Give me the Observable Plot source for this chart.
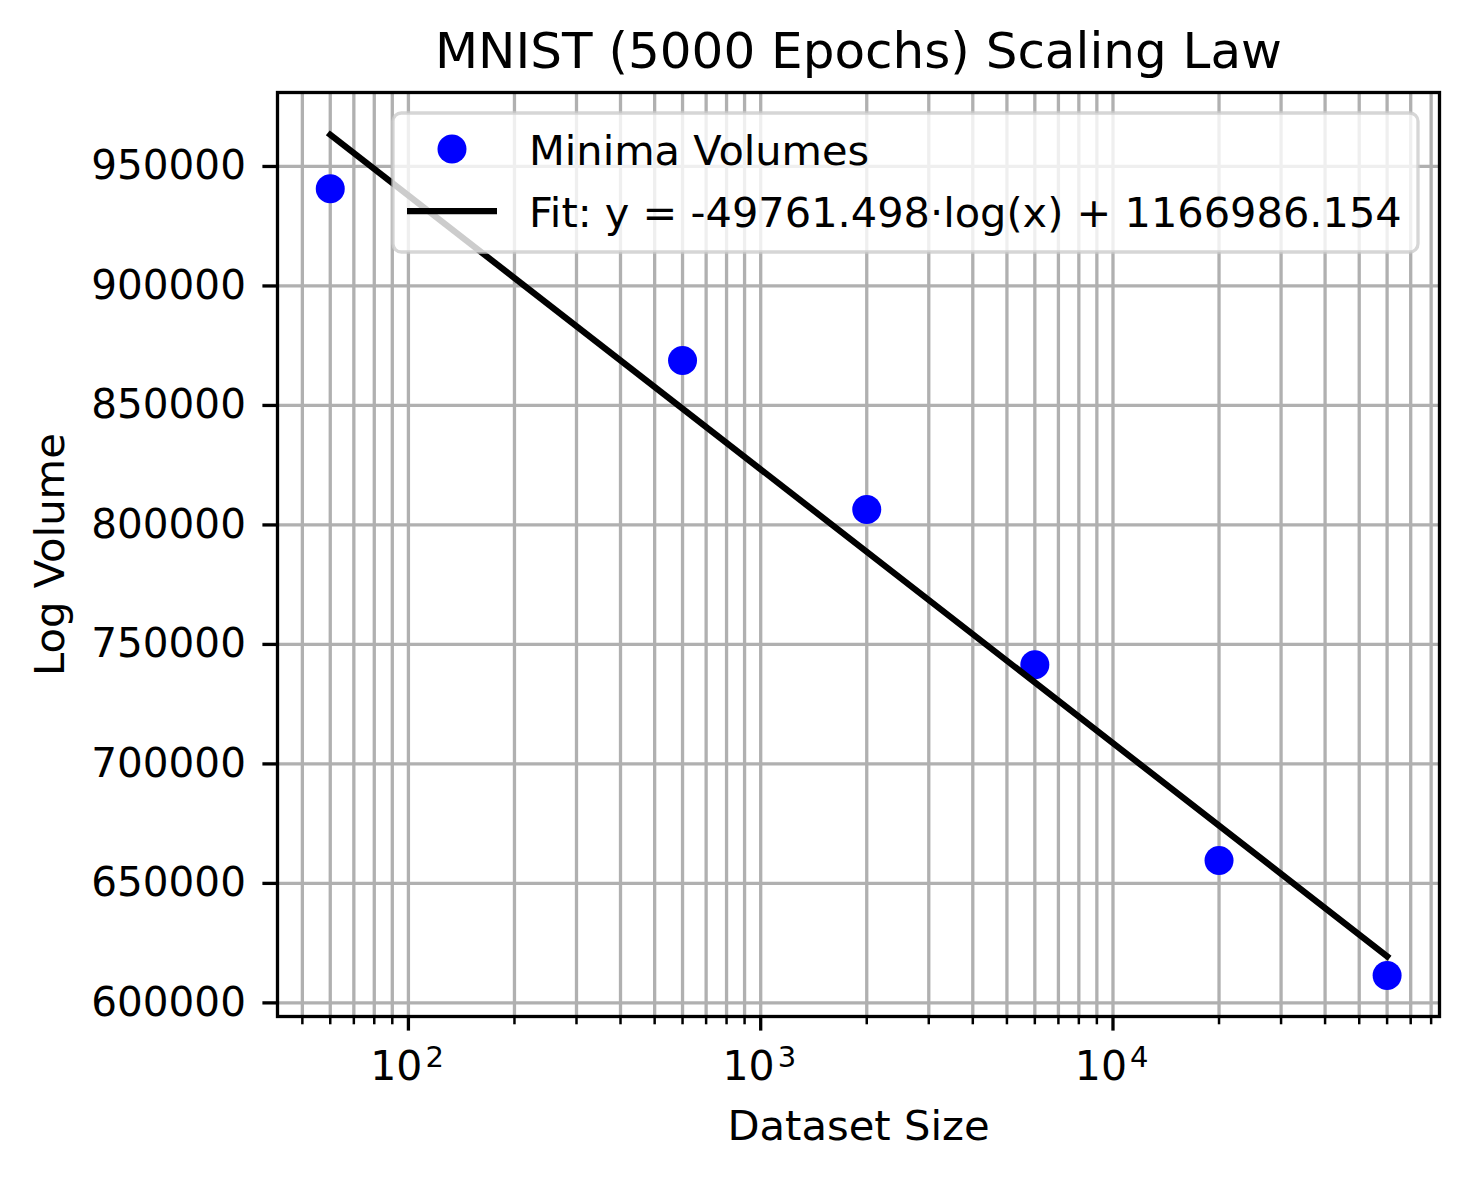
<!DOCTYPE html>
<html><head><meta charset="utf-8">
<script src="https://cdn.jsdelivr.net/npm/d3@7"></script>
<script src="https://cdn.jsdelivr.net/npm/@observablehq/plot@0.6"></script>
<style>
body{margin:0;background:#fff;}
#wrap{position:relative;width:1469px;height:1177px;font-family:"DejaVu Sans";}
#wrap svg{position:absolute;left:0;top:0;}
</style></head><body><div id="wrap"></div>
<script>
const datasetSizes = [60, 600, 2000, 6000, 20000, 60000];
const logVolumes = [940700, 868800, 806500, 741500, 659600, 611500];
const fitX = [60, 60000];
const fitY = [963250, 619510];
const xMajorTicks = [100, 1000, 10000];
const xTickBase = "10";
const xTickExponents = ["2", "3", "4"];
const xMinorTicks = [50, 60, 70, 80, 90, 200, 300, 400, 500, 600, 700, 800, 900,
  2000, 3000, 4000, 5000, 6000, 7000, 8000, 9000, 20000, 30000, 40000, 50000, 60000, 70000, 80000];
const yTicks = [600000, 650000, 700000, 750000, 800000, 850000, 900000, 950000];
const seriesLabels = ["Minima Volumes", "Fit: y = -49761.498·log(x) + 1166986.154"];
const titleText = "MNIST (5000 Epochs) Scaling Law";
const xLabel = "Dataset Size";
const yLabel = "Log Volume";

const points = datasetSizes.map((x, i) => ({x, y: logVolumes[i]}));
const fit = fitX.map((x, i) => ({x, y: fitY[i]}));
const majors = xMajorTicks.map((t, i) => ({t, e: xTickExponents[i]}));

const chart = Plot.plot({
  width: 1469, height: 1177,
  marginLeft: 277, marginRight: 30, marginTop: 92, marginBottom: 161,
  style: {fontFamily: "DejaVu Sans", fontSize: "41.7px", background: "white", color: "black"},
  x: {type: "log", domain: [42.5, 84500], label: null},
  y: {domain: [594300, 980950], label: null},
  marks: [
    Plot.gridX(xMajorTicks.concat(xMinorTicks), {stroke: "#b0b0b0", strokeOpacity: 1, strokeWidth: 3.3}),
    Plot.gridY(yTicks, {stroke: "#b0b0b0", strokeOpacity: 1, strokeWidth: 3.3}),
    Plot.dot(points, {x: "x", y: "y", r: 14.5, fill: "blue", stroke: null}),
    Plot.line(fit, {x: "x", y: "y", stroke: "black", strokeWidth: 6.25, strokeLinecap: "square"}),
    Plot.axisX({ticks: xMinorTicks, tickSize: 8.3, strokeWidth: 2.5, tickFormat: () => "", label: null}),
    Plot.axisX({ticks: xMajorTicks, tickSize: 14.6, strokeWidth: 3.3, tickFormat: () => "", label: null}),
    Plot.text(majors, {x: "t", frameAnchor: "bottom", dy: 63, dx: 14, textAnchor: "end", lineAnchor: "bottom", fontSize: 41, text: () => xTickBase}),
    Plot.text(majors, {x: "t", frameAnchor: "bottom", dy: 50, dx: 17, textAnchor: "start", lineAnchor: "bottom", fontSize: 29, text: "e"}),
    Plot.axisY({ticks: yTicks, tickSize: 14.6, strokeWidth: 3.3, tickPadding: 17, fontSize: 40.5, tickFormat: d3.format("d"), label: null}),
    Plot.frame({stroke: "black", strokeWidth: 3.3}),
    Plot.text([titleText], {frameAnchor: "top", dy: -25, lineAnchor: "bottom", fontSize: 50, text: d => d}),
    Plot.text([xLabel], {frameAnchor: "bottom", dy: 123, lineAnchor: "bottom", text: d => d}),
    Plot.text([yLabel], {frameAnchor: "left", dx: -214, rotate: -90, textAnchor: "middle", lineAnchor: "bottom", text: d => d})
  ]
});
document.getElementById("wrap").appendChild(chart);

// legend overlay
const leg = d3.select("#wrap").append("svg")
  .attr("width", 1469).attr("height", 1177)
  .style("font-family", "DejaVu Sans").style("font-size", "41.5px");
leg.append("rect").attr("x", 393).attr("y", 113).attr("width", 1025).attr("height", 139)
  .attr("rx", 8.3).attr("ry", 8.3)
  .attr("fill", "white").attr("fill-opacity", 0.8)
  .attr("stroke", "#cccccc").attr("stroke-opacity", 0.8).attr("stroke-width", 3.3);
leg.append("circle").attr("cx", 452).attr("cy", 149).attr("r", 14.5).attr("fill", "blue");
leg.append("line").attr("x1", 407).attr("x2", 497).attr("y1", 211).attr("y2", 211)
  .attr("stroke", "black").attr("stroke-width", 6.25);
leg.append("text").attr("x", 529).attr("y", 165).text(seriesLabels[0]);
leg.append("text").attr("x", 529).attr("y", 227).text(seriesLabels[1]);
</script></body></html>
